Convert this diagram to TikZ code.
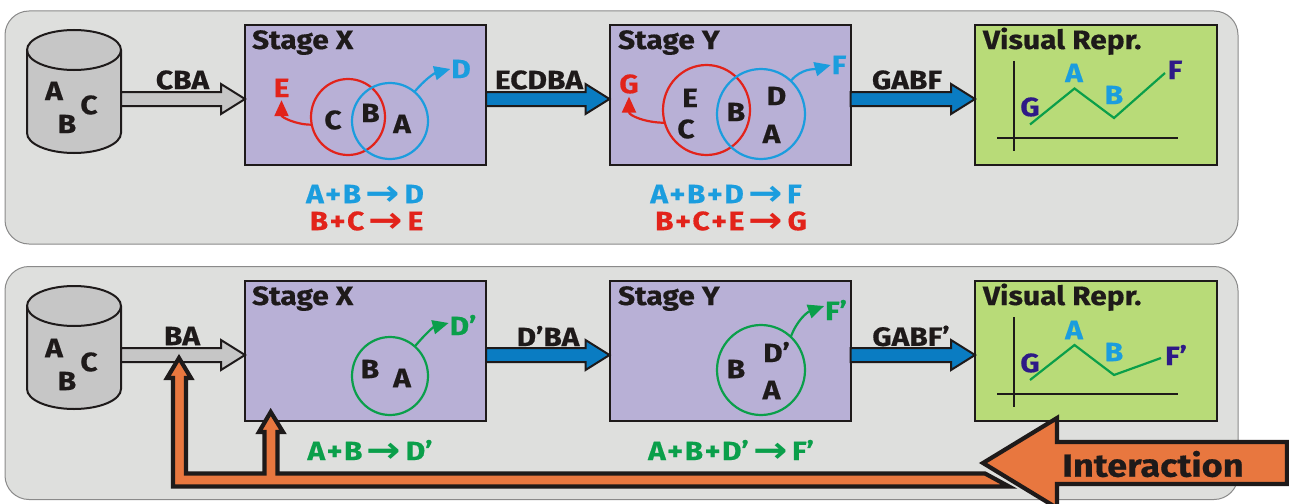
\documentclass[tikz,border=0pt]{standalone}
\usepackage{graphicx}
\usepackage{fontspec}
\setmainfont{Fira Sans}[BoldFeatures={FakeStretch=1.13,FakeBold=0.5}]
\newfontfamily\arrowfont{DejaVu Sans}[Scale=1.0]
\usetikzlibrary{shapes.geometric,arrows.meta,calc}
\definecolor{panelc}{HTML}{DEDFDD}
\definecolor{panelb}{HTML}{8A8A8A}
\definecolor{stagec}{HTML}{B8B0D6}
\definecolor{visc}{HTML}{B8DB78}
\definecolor{orangec}{HTML}{E8773F}
\definecolor{bluec}{HTML}{0A7CC2}
\definecolor{cyanc}{HTML}{1B9DDE}
\definecolor{redc}{HTML}{E2231A}
\definecolor{greenc}{HTML}{0A9F4A}
\definecolor{navyc}{HTML}{2E1A87}
\definecolor{greyc}{HTML}{C6C6C6}
\definecolor{inkc}{HTML}{1E1A1A}
\newcommand{\toarrow}{\,\smash{\raisebox{-2.5pt}{\scalebox{1.55}[1.35]{\arrowfont\bfseries →}}}\,}
\newcommand{\pl}{\kern1.5pt+\kern1.5pt}
\tikzset{
  panel/.style={draw=panelb,fill=panelc,line width=1pt,rounded corners=24pt,minimum width=1233pt,minimum height=233pt,inner sep=0pt,outer sep=0pt},
  stagebox/.style={draw=inkc,fill=stagec,line width=2pt,minimum width=241pt,minimum height=140pt,inner sep=0pt,outer sep=0pt},
  visbox/.style={stagebox,fill=visc,minimum width=242pt},
  lbl/.style={font=\bfseries\fontsize{26.5}{26.5}\selectfont,text=inkc,inner sep=0pt,outer sep=0pt},
  ttl/.style={lbl,anchor=base west},
  rel/.style={lbl,text=#1},
  ring/.style={draw=#1,line width=2.2pt,ellipse,inner sep=0pt,outer sep=0pt},
  flow/.style={draw=#1,line width=2.2pt,-{Triangle[length=16pt,width=14pt]}},
  axis/.style={draw=inkc,line width=2pt},
  trend/.style={draw=greenc,line width=2.2pt},
  dbframe/.style={minimum width=94pt,minimum height=123pt,inner sep=0pt,outer sep=0pt},
  dbbody/.style={draw=inkc,fill=greyc,line width=2pt},
  blockline/.style={draw=inkc,line width=2pt,line join=miter},
  pipe/.style={draw=inkc,fill=orangec,line width=4.2pt,line join=miter,miter limit=10},
}
% #1 from, #2 to, #3 y, #4 fill
\newcommand{\blockarr}[4]{%
  \coordinate (ylevel) at (0,#3);
  \draw[blockline,fill=#4] let \p1=(#1 |- ylevel), \p2=(#2 |- ylevel) in
    (\x1,\y1+7pt) -- (\x2-24pt,\y1+7pt) -- (\x2-24pt,\y1+15pt) -- (\x2,\y1) --
    (\x2-24pt,\y1-15pt) -- (\x2-24pt,\y1-7pt) -- (\x1,\y1-7pt) -- cycle;}
\newcommand{\dbdraw}[1]{%
  \draw[dbbody] ([yshift=-20pt]#1.north west) -- ([yshift=20pt]#1.south west)
    arc[x radius=47pt,y radius=20pt,start angle=180,end angle=360]
    -- ([yshift=-20pt]#1.north east)
    arc[x radius=47pt,y radius=20pt,start angle=0,end angle=180] -- cycle;
  \draw[dbbody,fill=none] ([yshift=-20pt]#1.north west)
    arc[x radius=47pt,y radius=20pt,start angle=180,end angle=360];}
\begin{document}
\begin{tikzpicture}[x=1pt,y=-1pt]
\useasboundingbox (0,0) rectangle (1289,503);
% panels
\node[panel] (panelA) at (621.5,127.5) {};
\node[panel] (panelB) at (621.5,383) {};
% ---------- top row ----------
\node[dbframe] (dbA) at (74,91.5) {};
\dbdraw{dbA}
\node[lbl] (dbAa) at (54,91) {A};
\node[lbl] (dbAc) at (89,105) {C};
\node[lbl] (dbAb) at (67,124) {B};
\node[stagebox] (xA) at (365.5,95) {};
\node[stagebox] (yA) at (730,95) {};
\node[visbox] (vA) at (1096,95) {};
\blockarr{dbA.east}{xA.west}{99}{greyc}
\blockarr{xA.east}{yA.west}{99}{bluec}
\blockarr{yA.east}{vA.west}{99}{bluec}
\node[lbl] (eCBA) at (182.5,80) {CBA};
\node[lbl] (eECDBA) at (539,80) {ECDBA};
\node[lbl] (eGABF) at (907,80) {GABF};
\node[ttl] (tXA) at (252,49) {Stage X};
\node[ttl] (tYA) at (618,49) {Stage Y};
\node[ttl] (tVA) at (983,49) {Visual Repr.};
% stage X venn
\node[ring=redc,minimum width=74pt,minimum height=76pt] (xAr) at (348,117) {};
\node[ring=cyanc,minimum width=76pt,minimum height=76pt] (xAb) at (390,121) {};
\node[lbl] (xAc) at (333,120) {C};
\node[lbl] (xAbb) at (370.5,113) {B};
\node[lbl] (xAa) at (402,124) {A};
\node[rel=cyanc] (xAd) at (461,69) {D};
\node[rel=redc] (xAe) at (281.5,88) {E};
\draw[flow=redc] (xAr.192) to[out=180,in=-90,looseness=1.1] ([yshift=-3pt]xAe.south);
\draw[flow=cyanc] (xAb.50) to[out=50,in=195] ([xshift=-1pt]xAd.west);
% stage Y venn
\node[ring=redc,minimum width=87pt,minimum height=90pt] (yAr) at (706.5,110) {};
\node[ring=cyanc,minimum width=88pt,minimum height=90pt] (yAb) at (761,114) {};
\node[lbl] (yAe) at (690,98) {E};
\node[lbl] (yAc) at (686,129) {C};
\node[lbl] (yAbb) at (736,112) {B};
\node[lbl] (yAd) at (776.5,96) {D};
\node[lbl] (yAa) at (771.5,134) {A};
\node[rel=cyanc] (yAf) at (839,65) {F};
\node[rel=redc] (yAg) at (629,84) {G};
\draw[flow=redc] (yAr.197) to[out=180,in=-90,looseness=1.1] ([yshift=-3pt]yAg.south);
\draw[flow=cyanc] (yAb.48) to[out=50,in=195] ([xshift=-1pt]yAf.west);
% formulas
\node[rel=cyanc] (fA1) at (365,194) {A\pl B\toarrow D};
\node[rel=redc] (fA2) at (366.5,221) {B\pl C\toarrow E};
\node[rel=cyanc] (fA3) at (726,194) {A\pl B\pl D\toarrow F};
\node[rel=redc] (fA4) at (731,221) {B\pl C\pl E\toarrow G};
% chart top
\coordinate (aAt) at (1014,61); \coordinate (aAb) at (1014,151);
\coordinate (aAl) at (997,137.5); \coordinate (aAr) at (1178,137.5);
\draw[axis] (aAt) -- (aAb);
\draw[axis] (aAl) -- (aAr);
\node[rel=navyc] (cAg) at (1030,107) {G};
\node[rel=cyanc] (cAa) at (1074,73) {A};
\node[rel=cyanc] (cAb) at (1114,95) {B};
\node[rel=navyc] (cAf) at (1175,70) {F};
\coordinate (pA1) at (1030,124.5); \coordinate (pA2) at (1074.5,88.5);
\coordinate (pA3) at (1114,118); \coordinate (pA4) at (1165,73);
\draw[trend] (pA1) -- (pA2) -- (pA3) -- (pA4);
% ---------- bottom row ----------
\node[dbframe] (dbB) at (74,347.5) {};
\dbdraw{dbB}
\node[lbl] (dbBa) at (54,348) {A};
\node[lbl] (dbBc) at (89,362) {C};
\node[lbl] (dbBb) at (67,381) {B};
\node[stagebox] (xB) at (365.5,350.5) {};
\node[stagebox] (yB) at (730,350.5) {};
\node[visbox] (vB) at (1096,350.5) {};
\blockarr{dbB.east}{xB.west}{355}{greyc}
\blockarr{xB.east}{yB.west}{355}{bluec}
\blockarr{yB.east}{vB.west}{355}{bluec}
\node[lbl] (eBA) at (182,336) {BA};
\node[lbl] (eDBA) at (548,336) {D'BA};
\node[lbl] (eGABFp) at (911,336) {GABF'};
\node[ttl] (tXB) at (252,305) {Stage X};
\node[ttl] (tYB) at (618,305) {Stage Y};
\node[ttl] (tVB) at (983,305) {Visual Repr.};
\node[ring=greenc,minimum width=76pt,minimum height=78pt] (xBr) at (390,376) {};
\node[lbl] (xBb) at (370,369) {B};
\node[lbl] (xBa) at (402,378) {A};
\node[rel=greenc] (xBd) at (463,325) {D'};
\draw[flow=greenc] (xBr.50) to[out=50,in=195] ([xshift=-1pt,yshift=2pt]xBd.west);
\node[ring=greenc,minimum width=88pt,minimum height=90pt] (yBr) at (761,370) {};
\node[lbl] (yBb) at (736,369) {B};
\node[lbl] (yBd) at (776.5,352) {D'};
\node[lbl] (yBa) at (771.5,390) {A};
\node[rel=greenc] (yBf) at (836,310) {F'};
\draw[flow=greenc] (yBr.48) to[out=70,in=200] ([xshift=-1pt,yshift=4pt]yBf.west);
\node[rel=greenc] (fB1) at (370,450) {A\pl B\toarrow D'};
\node[rel=greenc] (fB2) at (731,450) {A\pl B\pl D'\toarrow F'};
\coordinate (aBt) at (1014,317); \coordinate (aBb) at (1014,407);
\coordinate (aBl) at (997,394); \coordinate (aBr) at (1178,394);
\draw[axis] (aBt) -- (aBb);
\draw[axis] (aBl) -- (aBr);
\node[rel=navyc] (cBg) at (1030,363) {G};
\node[rel=cyanc] (cBa) at (1074,330) {A};
\node[rel=cyanc] (cBb) at (1114,352) {B};
\node[rel=navyc] (cBf) at (1176,355) {F'};
\coordinate (pB1) at (1030,380); \coordinate (pB2) at (1074.5,345);
\coordinate (pB3) at (1114,375); \coordinate (pB4) at (1161,358);
\draw[trend] (pB1) -- (pB2) -- (pB3) -- (pB4);
% interaction pipes
\draw[pipe] (1009,486.5) -- (173,486.5) -- (173,378) -- (167,378) -- (179,358) -- (191,378) -- (186,378)
  -- (186,473.5) -- (264.5,473.5) -- (264.5,432) -- (259,432) -- (270.7,412) -- (283,432) -- (277.5,432)
  -- (277.5,473.5) -- (985,473.5) -- cycle;
\begin{scope}
\clip (0,0) rectangle (1289,503);
\draw[pipe] (983,463) -- (1057,418) -- (1057,442) -- (1287,442) -- (1287,484) -- (1057,484) -- (1057,508) -- cycle;
\end{scope}
\node[lbl,font=\bfseries\fontsize{32}{32}\selectfont] (iact) at (1153,464) {Interaction};
\end{tikzpicture}
\end{document}
